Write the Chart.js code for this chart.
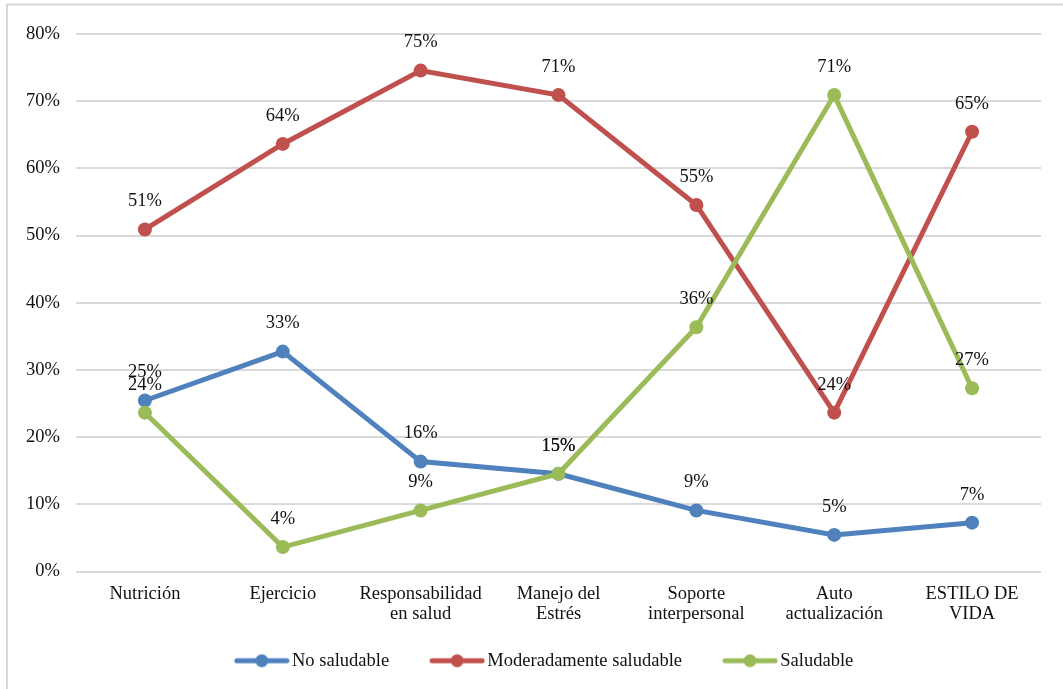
<!DOCTYPE html>
<html>
<head>
<meta charset="utf-8">
<script src="https://cdn.jsdelivr.net/npm/chart.js@4.4.0/dist/chart.umd.min.js"></script>
<style>
  html, body { margin: 0; padding: 0; background: #fff; }
  #wrap { width: 1063px; height: 689px; position: relative; }
</style>
</head>
<body>
<div id="wrap"><canvas id="c" width="1063" height="689"></canvas></div>
<script>
const categories = [
  "Nutrición",
  "Ejercicio",
  ["Responsabilidad", "en salud"],
  ["Manejo del", "Estrés"],
  ["Soporte", "interpersonal"],
  ["Auto", "actualización"],
  ["ESTILO DE", "VIDA"]
];
const seriesNames = ["No saludable", "Moderadamente saludable", "Saludable"];
const noSaludable = [25.45, 32.73, 16.36, 14.55, 9.09, 5.45, 7.27];
const moderadamente = [50.91, 63.64, 74.55, 70.91, 54.55, 23.64, 65.45];
const saludable = [23.64, 3.64, 9.09, 14.55, 36.36, 70.91, 27.27];
const yTicks = [0, 10, 20, 30, 40, 50, 60, 70, 80];

const colors = ["#4F81BD", "#C0504D", "#9BBB59"];
const FONT = "'Liberation Serif', 'Times New Roman', serif";
const FS = 18.5;
const TEXT = "#111";

// legend icon: transparent left margin + line with a dot
function legendIcon(color) {
  const cv = document.createElement('canvas');
  cv.width = 77; cv.height = 16;
  const g = cv.getContext('2d');
  const L = 21;
  g.strokeStyle = color; g.lineWidth = 5; g.lineCap = 'round';
  g.beginPath(); g.moveTo(L + 3, 8); g.lineTo(L + 53, 8); g.stroke();
  g.fillStyle = color;
  g.beginPath(); g.arc(L + 28, 8, 6.5, 0, Math.PI * 2); g.fill();
  return cv;
}
const icons = colors.map(legendIcon);

const borderPlugin = {
  id: 'frame',
  beforeDraw(chart) {
    const ctx = chart.ctx;
    ctx.save();
    ctx.fillStyle = '#fff';
    ctx.fillRect(0, 0, chart.width, chart.height);
    ctx.strokeStyle = '#d9d9d9';
    ctx.lineWidth = 2;
    ctx.strokeRect(7, 4.5, 1200, 900);
    ctx.restore();
  }
};

const legendShift = {
  id: 'legendShift',
  afterLayout(chart) {
    if (chart.legend) { chart.legend.left += 16; chart.legend.right += 16; }
  }
};

const labelPlugin = {
  id: 'valueLabels',
  afterDatasetsDraw(chart) {
    const ctx = chart.ctx;
    ctx.save();
    ctx.font = FS + "px " + FONT;
    ctx.fillStyle = TEXT;
    ctx.textAlign = 'center';
    ctx.textBaseline = 'middle';
    chart.data.datasets.forEach((ds, di) => {
      const meta = chart.getDatasetMeta(di);
      meta.data.forEach((pt, i) => {
        ctx.fillText(Math.round(ds.data[i]) + '%', pt.x, pt.y - 28);
      });
    });
    ctx.restore();
  }
};

const allSeries = [noSaludable, moderadamente, saludable];
const datasets = allSeries.map((d, i) => ({
  label: seriesNames[i],
  data: d,
  borderColor: colors[i],
  backgroundColor: colors[i],
  pointBackgroundColor: colors[i],
  pointBorderColor: colors[i],
  borderWidth: 5,
  pointRadius: 7,
  pointBorderWidth: 0,
  pointHoverRadius: 7,
  tension: 0,
  fill: false,
  order: 3 - i
}));

new Chart(document.getElementById('c'), {
  type: 'line',
  data: { labels: categories, datasets },
  plugins: [borderPlugin, legendShift, labelPlugin],
  options: {
    responsive: false,
    animation: false,
    layout: { padding: { left: 0, right: 22, top: 34, bottom: 9 } },
    plugins: {
      tooltip: { enabled: false },
      legend: {
        position: 'bottom',
        align: 'center',
        labels: {
          usePointStyle: true,
          pointStyleWidth: 63,
          boxHeight: 18,
          padding: 26,
          color: TEXT,
          font: { family: FONT, size: FS },
          generateLabels(chart) {
            return chart.data.datasets.map((ds, i) => ({
              text: ds.label,
              fillStyle: ds.borderColor,
              strokeStyle: ds.borderColor,
              lineWidth: 0,
              pointStyle: icons[i],
              datasetIndex: i,
              hidden: false,
              fontColor: TEXT
            }));
          }
        }
      }
    },
    scales: {
      x: {
        offset: true,
        grid: { display: false, drawTicks: false },
        border: { display: false },
        ticks: {
          color: TEXT,
          font: { family: FONT, size: FS, lineHeight: 1.08 },
          padding: 13,
          maxRotation: 0,
          minRotation: 0,
          autoSkip: false
        },
        afterFit(scale) { scale.height = 54; }
      },
      y: {
        min: yTicks[0],
        max: yTicks[yTicks.length - 1],
        afterBuildTicks(scale) { scale.ticks = yTicks.map(v => ({ value: v })); },
        grid: { color: '#d9d9d9', lineWidth: 2, drawTicks: false },
        border: { display: false },
        ticks: {
          color: TEXT,
          font: { family: FONT, size: FS },
          padding: 16,
          callback: v => v + '%'
        },
        afterFit(scale) { scale.width = 76; }
      }
    }
  }
});
</script>
</body>
</html>
